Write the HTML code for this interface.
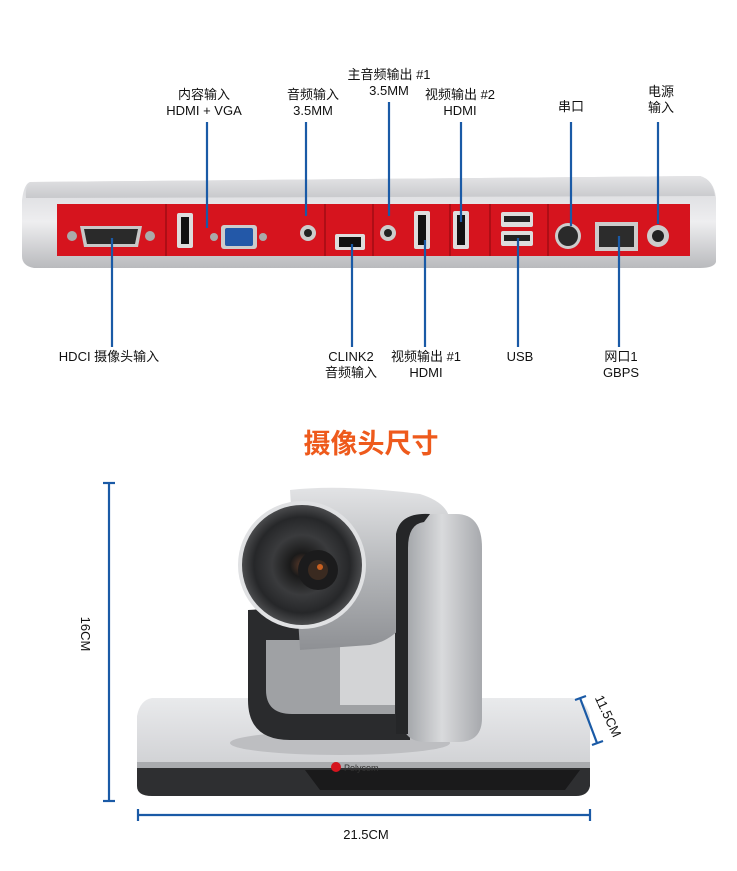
<!DOCTYPE html>
<html><head><meta charset="utf-8"><style>
html,body{margin:0;padding:0;background:#fff}
svg{display:block}
text{font-family:"Liberation Sans","Noto Sans CJK SC",sans-serif;fill:#111;font-size:13px}
</style></head><body>
<svg width="737" height="871" viewBox="0 0 737 871" xmlns="http://www.w3.org/2000/svg">
<defs>
<linearGradient id="top" x1="0" y1="0" x2="0" y2="1"><stop offset="0" stop-color="#e4e4e6"/><stop offset="1" stop-color="#c8c9cc"/></linearGradient>
<linearGradient id="front" x1="0" y1="0" x2="0" y2="1"><stop offset="0" stop-color="#d6d7da"/><stop offset="0.5" stop-color="#eeeef0"/><stop offset="1" stop-color="#b9babd"/></linearGradient>
<linearGradient id="plate" x1="0" y1="0" x2="0" y2="1"><stop offset="0" stop-color="#e9eaec"/><stop offset="1" stop-color="#cfd0d3"/></linearGradient>
<linearGradient id="body" x1="0" y1="0" x2="1" y2="0"><stop offset="0" stop-color="#9c9fa3"/><stop offset="0.5" stop-color="#d9dadc"/><stop offset="1" stop-color="#a7a9ad"/></linearGradient>
<linearGradient id="cyl" x1="0" y1="0" x2="0" y2="1"><stop offset="0" stop-color="#e2e3e5"/><stop offset="0.5" stop-color="#b5b7ba"/><stop offset="1" stop-color="#8e9094"/></linearGradient>
<radialGradient id="lens" cx="0.5" cy="0.5" r="0.5"><stop offset="0" stop-color="#5a3a2a"/><stop offset="0.2" stop-color="#1a1a1a"/><stop offset="0.5" stop-color="#3a3b3d"/><stop offset="0.8" stop-color="#262729"/><stop offset="1" stop-color="#4a4b4d"/></radialGradient>
</defs>

<text x="204" y="99" text-anchor="middle">内容输入</text>
<text x="204" y="115" text-anchor="middle">HDMI + VGA</text>
<text x="313" y="99" text-anchor="middle">音频输入</text>
<text x="313" y="115" text-anchor="middle">3.5MM</text>
<text x="389" y="79" text-anchor="middle">主音频输出 #1</text>
<text x="389" y="95" text-anchor="middle">3.5MM</text>
<text x="460" y="99" text-anchor="middle">视频输出 #2</text>
<text x="460" y="115" text-anchor="middle">HDMI</text>
<text x="571" y="111" text-anchor="middle">串口</text>
<text x="661" y="96" text-anchor="middle">电源</text>
<text x="661" y="112" text-anchor="middle">输入</text>

<path d="M30 182 L700 176 Q714 180 716 198 L716 262 Q714 268 700 268 L34 268 Q22 266 22 256 L22 200 Q24 184 30 182Z" fill="url(#front)"/>
<path d="M30 182 L700 176 Q712 179 715 196 L26 198 Q25 186 30 182Z" fill="url(#top)"/>
<rect x="57" y="204" width="633" height="52" fill="#d6141e"/>
<g stroke="#a00d14" stroke-width="1.5">
<line x1="166" y1="204" x2="166" y2="256"/><line x1="325" y1="204" x2="325" y2="256"/><line x1="373" y1="204" x2="373" y2="256"/><line x1="450" y1="204" x2="450" y2="256"/><line x1="490" y1="204" x2="490" y2="256"/><line x1="548" y1="204" x2="548" y2="256"/></g>
<circle cx="72" cy="236" r="5" fill="#aaa"/><circle cx="150" cy="236" r="5" fill="#aaa"/>
<path d="M80 226 L142 226 L138 247 L84 247Z" fill="#c8c8c8"/><path d="M84 229 L138 229 L135 244 L87 244Z" fill="#2a2a2a"/>
<rect x="177" y="213" width="16" height="35" rx="2" fill="#ddd"/><rect x="181" y="217" width="8" height="27" fill="#111"/>
<circle cx="214" cy="237" r="4" fill="#aaa"/><circle cx="263" cy="237" r="4" fill="#aaa"/>
<rect x="221" y="225" width="36" height="24" rx="3" fill="#ccc"/><rect x="225" y="228" width="28" height="18" rx="2" fill="#2358a8"/>
<circle cx="308" cy="233" r="8" fill="#ccc"/><circle cx="308" cy="233" r="4" fill="#222"/>
<circle cx="388" cy="233" r="8" fill="#ccc"/><circle cx="388" cy="233" r="4" fill="#222"/>
<rect x="335" y="234" width="30" height="16" rx="2" fill="#ddd"/><rect x="339" y="237" width="22" height="10" fill="#111"/>
<rect x="414" y="211" width="16" height="38" rx="2" fill="#ddd"/><rect x="418" y="215" width="8" height="30" fill="#111"/>
<rect x="453" y="211" width="16" height="38" rx="2" fill="#ddd"/><rect x="457" y="215" width="8" height="30" fill="#111"/>
<rect x="501" y="212" width="32" height="15" rx="2" fill="#ddd"/><rect x="504" y="216" width="26" height="6" fill="#222"/>
<rect x="501" y="231" width="32" height="15" rx="2" fill="#ddd"/><rect x="504" y="235" width="26" height="6" fill="#222"/>
<circle cx="568" cy="236" r="13" fill="#ccc"/><circle cx="568" cy="236" r="10" fill="#2a2a2a"/>
<rect x="595" y="222" width="43" height="29" fill="#ccc"/><rect x="599" y="226" width="35" height="21" fill="#2c2c2c"/>
<circle cx="658" cy="236" r="11" fill="#ccc"/><circle cx="658" cy="236" r="6" fill="#222"/>

<g stroke="#1a5aa6" stroke-width="2.2">
<line x1="207" y1="122" x2="207" y2="228"/><line x1="306" y1="122" x2="306" y2="216"/><line x1="389" y1="102" x2="389" y2="216"/><line x1="461" y1="122" x2="461" y2="222"/><line x1="571" y1="122" x2="571" y2="226"/><line x1="658" y1="122" x2="658" y2="224"/>
<line x1="112" y1="238" x2="112" y2="347"/><line x1="352" y1="244" x2="352" y2="347"/><line x1="425" y1="240" x2="425" y2="347"/><line x1="518" y1="238" x2="518" y2="347"/><line x1="619" y1="236" x2="619" y2="347"/>
</g>

<text x="109" y="361" text-anchor="middle">HDCI 摄像头输入</text>
<text x="351" y="361" text-anchor="middle">CLINK2</text>
<text x="351" y="377" text-anchor="middle">音频输入</text>
<text x="426" y="361" text-anchor="middle">视频输出 #1</text>
<text x="426" y="377" text-anchor="middle">HDMI</text>
<text x="520" y="361" text-anchor="middle">USB</text>
<text x="621" y="361" text-anchor="middle">网口1</text>
<text x="621" y="377" text-anchor="middle">GBPS</text>

<text x="371" y="453" text-anchor="middle" style="font-size:27px;fill:#ee5a1c;font-weight:bold">摄像头尺寸</text>

<!-- camera base -->
<path d="M152 698 L572 698 Q586 700 590 716 L590 770 L137 770 L137 716 Q140 700 152 698Z" fill="url(#plate)"/>
<path d="M137 762 L590 762 L590 786 Q588 796 576 796 L152 796 Q137 796 137 786Z" fill="#2e2f31"/>
<path d="M137 762 L590 762 L590 768 L137 768Z" fill="#a9abae"/>
<path d="M305 770 L580 770 L565 790 L320 790Z" fill="#1a1a1b"/>
<ellipse cx="340" cy="743" rx="110" ry="12" fill="#bdbec1"/>
<circle cx="336" cy="767" r="5" fill="#d6141e"/><text x="344" y="771" style="font-size:9px;fill:#333">Polycom</text>
<!-- bracket -->
<path d="M248 610 L248 700 Q248 740 290 740 L410 740 L410 600 Z" fill="#2a2b2d"/>
<path d="M266 640 L266 690 Q266 714 292 714 L395 714 L395 640Z" fill="#9fa1a4"/>
<path d="M340 628 L395 628 L395 705 L340 705Z" fill="#d3d4d6"/>
<!-- head cylinder -->
<path d="M290 490 Q340 484 420 494 Q452 504 450 526 L420 600 Q400 640 370 645 L300 650Z" fill="url(#cyl)"/>
<!-- right arm -->
<path d="M402 548 Q402 514 434 514 L456 514 Q482 514 482 548 L482 718 Q482 742 458 742 L426 742 Q402 742 402 718Z" fill="url(#body)"/>
<path d="M396 534 Q400 512 430 514 L424 522 Q408 524 408 548 L408 734 L396 734Z" fill="#252628"/>
<circle cx="302" cy="565" r="64" fill="#e0e1e3"/>
<circle cx="302" cy="565" r="60" fill="url(#lens)"/>
<circle cx="318" cy="570" r="20" fill="#1b1b1c"/><circle cx="318" cy="570" r="10" fill="#3a2a20"/><circle cx="320" cy="567" r="3" fill="#c86020"/>

<!-- dimensions -->
<g stroke="#1a5aa6" stroke-width="2.2">
<line x1="109" y1="483" x2="109" y2="801"/><line x1="103" y1="483" x2="115" y2="483"/><line x1="103" y1="801" x2="115" y2="801"/>
<line x1="138" y1="815" x2="590" y2="815"/><line x1="138" y1="809" x2="138" y2="821"/><line x1="590" y1="809" x2="590" y2="821"/>
<line x1="580" y1="698" x2="597" y2="743"/><line x1="575" y1="700" x2="586" y2="696"/><line x1="592" y1="745" x2="603" y2="741"/>
</g>
<text x="0" y="0" text-anchor="middle" transform="translate(81,634) rotate(90)">16CM</text>
<text x="366" y="839" text-anchor="middle">21.5CM</text>
<text x="0" y="0" text-anchor="middle" transform="translate(604,718) rotate(65)">11.5CM</text>
</svg>
</body></html>
